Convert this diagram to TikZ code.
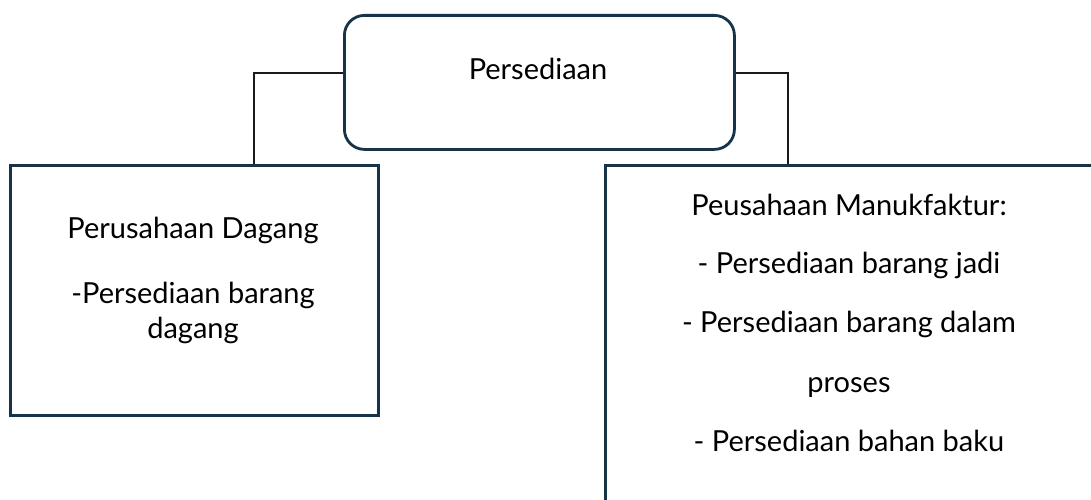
\documentclass[tikz,border=0pt]{standalone}
\usepackage{fontspec}
\setmainfont{Lato}
\usetikzlibrary{calc}
\definecolor{boxline}{HTML}{173347}
\definecolor{conn}{HTML}{1A1A1A}
\begin{document}
\begin{tikzpicture}[x=1pt,y=-1pt,
  box/.style={draw=boxline,line width=2.8pt,inner sep=0pt,anchor=north west},
  conline/.style={draw=conn,line width=1.1pt},
  lbl/.style={font=\fontsize{29}{34}\selectfont,anchor=base,inner sep=0pt,text=black}]
\useasboundingbox (0,0) rectangle (1091,500);
% boxes
\node[box,rounded corners=20pt,minimum width=390pt,minimum height=134pt] (top) at (343,14) {};
\node[box,minimum width=368pt,minimum height=250pt] (left) at (9,164) {};
\node[box,minimum width=490pt,minimum height=380pt] (right) at (604,164) {};
% connectors
\coordinate (lj) at (254,73);
\coordinate (rj) at (788,73);
\draw[conline] (top.west|-lj) -- (lj) -- (lj|-left.north);
\draw[conline] (top.east|-rj) -- (rj) -- (rj|-right.north);
% texts
\node[lbl] (t0) at (538,80) {Persediaan};
\node[lbl] (l1) at (193,238) {Perusahaan Dagang};
\node[lbl] (l2) at (193,303) {-Persediaan barang};
\node[lbl] (l3) at (193,338) {dagang};
\node[lbl] (r1) at (849,215) {Peusahaan Manukfaktur:};
\node[lbl] (r2) at (849,273) {- Persediaan barang jadi};
\node[lbl] (r3) at (849,332) {- Persediaan barang dalam};
\node[lbl] (r4) at (849,392) {proses};
\node[lbl] (r5) at (849,451) {- Persediaan bahan baku};
\end{tikzpicture}
\end{document}
